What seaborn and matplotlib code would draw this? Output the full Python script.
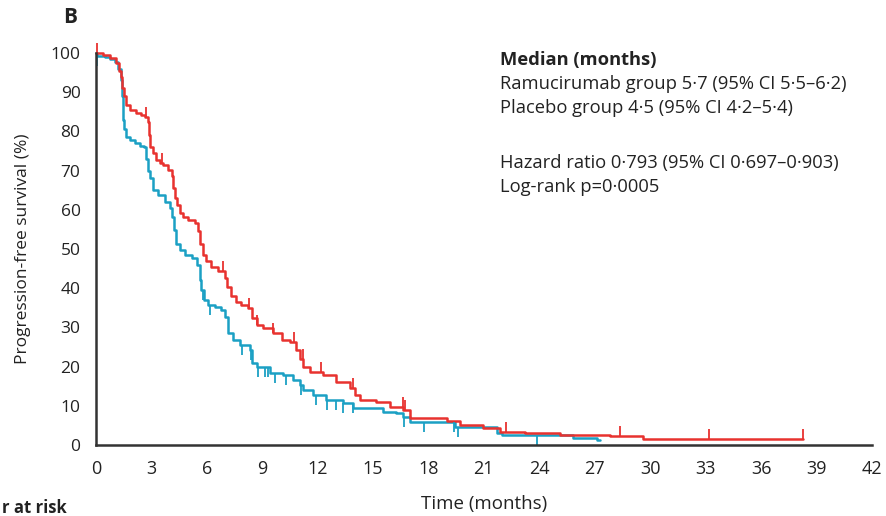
import numpy as np
import pandas as pd
import matplotlib
matplotlib.use("Agg")
import matplotlib.pyplot as plt
import seaborn as sns

# Kaplan-Meier step knots (months, % progression-free)
ram_time = [0, 0.38, 0.76, 1.12, 1.24, 1.35, 1.42, 1.52, 1.66, 1.84, 2.20, 2.47, 2.65,
            2.81, 2.87, 2.92, 3.10, 3.28, 3.46, 3.64, 3.91, 4.10, 4.18, 4.27, 4.37,
            4.55, 4.72, 4.99, 5.36, 5.54, 5.63, 5.81, 5.99, 6.26, 6.62, 6.98, 7.09,
            7.34, 7.61, 7.85, 8.24, 8.43, 8.70, 9.05, 9.59, 10.05, 10.50, 10.86, 11.04,
            11.22, 11.58, 12.30, 13.02, 13.74, 14.02, 14.29, 15.19, 15.91, 16.63, 16.99,
            18.98, 19.70, 20.94, 21.90, 23.20, 25.10, 27.80, 29.60, 38.27]
ram_surv = [100, 99.5, 98.8, 97.5, 95.5, 94, 91, 89, 86.7, 85.5, 84.8, 84.2, 83.6,
            82.5, 79, 76.1, 74.4, 72.7, 71.9, 71.4, 70.2, 68.5, 65.5, 63, 61.2,
            59.1, 58.2, 57.4, 56.6, 54.5, 51.4, 48.5, 47, 45.5, 44.4, 42.5, 40.4,
            38, 36.6, 35.6, 34.9, 32.3, 30.6, 29.8, 28.5, 26.8, 26.4, 24.2, 22,
            20, 18.7, 17.9, 16.1, 14.5, 12.8, 11.5, 11, 9.8, 8.9, 6.9,
            6.0, 5.1, 4.3, 3.4, 3.0, 2.6, 2.3, 1.6, 1.6]

pla_time = [0, 0.05, 0.49, 0.76, 1.03, 1.21, 1.35, 1.43, 1.48, 1.52, 1.66, 1.84, 2.11,
            2.38, 2.61, 2.71, 2.81, 2.92, 3.10, 3.37, 3.73, 4.00, 4.15, 4.22, 4.33,
            4.55, 4.82, 5.18, 5.45, 5.63, 5.72, 5.84, 6.08, 6.44, 6.80, 6.98, 7.16,
            7.43, 7.79, 8.33, 8.43, 8.70, 9.42, 10.14, 10.68, 11.04, 11.22, 11.76,
            12.48, 13.38, 13.92, 15.55, 16.27, 16.63, 16.99, 19.45, 21.70, 22.00,
            25.80, 27.10, 27.27]
pla_surv = [100, 99.3, 99, 98.5, 97.8, 96, 93, 89, 83, 80.5, 78.6, 77.8, 77,
            76.3, 75.9, 73, 70, 68, 65, 63.8, 62, 60.4, 58.2, 54.8, 51.4,
            49.7, 48.5, 47.6, 45.9, 42.1, 39.5, 37, 35.7, 35.3, 34.4, 32.7, 28.5,
            26.8, 25.5, 24.2, 20.8, 20, 18.3, 17.9, 16.6, 15.3, 14, 12.8,
            11.5, 10.6, 9.4, 8.5, 8.1, 7.2, 5.8, 4.5, 3.0, 2.6,
            1.7, 1.2, 1.2]

# censoring marks (months)
ram_cens = [0.05, 2.7, 3.6, 6.86, 8.3, 8.7, 9.6, 10.7, 11.2, 12.2, 13.9, 16.6, 16.75,
            22.2, 28.36, 33.19, 38.27]
pla_cens = [0.05, 5.8, 6.2, 7.9, 8.4, 8.8, 9.15, 9.3, 9.7, 10.3, 11.1, 11.9, 12.5,
            13.0, 13.4, 13.9, 16.7, 17.75, 19.4, 19.6, 23.9]

red = "#e8322f"
blue = "#1ba0c4"

df = pd.concat([
    pd.DataFrame({"time": ram_time, "surv": ram_surv, "group": "Ramucirumab"}),
    pd.DataFrame({"time": pla_time, "surv": pla_surv, "group": "Placebo"}),
])

sns.set_style("white")
plt.rcParams["font.family"] = ["Open Sans", "DejaVu Sans"]

fig = plt.figure(figsize=(8.87, 5.16), dpi=100)
ax = fig.add_axes([0.108, 0.1376, 0.875, 0.7597])

sns.lineplot(data=df, x="time", y="surv", hue="group",
             palette={"Ramucirumab": red, "Placebo": blue},
             hue_order=["Placebo", "Ramucirumab"],
             estimator=None, sort=False, drawstyle="steps-post",
             linewidth=1.8, legend=False, ax=ax, clip_on=False)


def step_at(times, survs, t):
    idx = np.searchsorted(times, t, side="right") - 1
    return np.asarray(survs)[idx]


ax.plot(pla_cens, step_at(pla_time, pla_surv, pla_cens), linestyle="none",
        marker=3, ms=7, mew=1.3, color=blue, clip_on=False)
ax.plot(ram_cens, step_at(ram_time, ram_surv, ram_cens), linestyle="none",
        marker=2, ms=7, mew=1.3, color=red, clip_on=False)

ax.set_xlim(0, 42)
ax.set_ylim(0, 100)
ax.set_xticks(range(0, 43, 3))
ax.set_yticks(range(0, 101, 10))
for s in ["top", "right"]:
    ax.spines[s].set_visible(False)
for s in ["left", "bottom"]:
    ax.spines[s].set_color("#333333")
    ax.spines[s].set_linewidth(1.8)
ax.tick_params(axis="both", direction="out", length=8, width=1.6, color="#333333",
               labelsize=12.5, labelcolor="#222222", pad=3)
for lab in ax.get_xticklabels():
    lab.set_fontsize(13)

ax.set_xlabel("Time (months)", fontsize=13.5, color="#222222", labelpad=12)
ax.set_ylabel("Progression-free survival (%)", fontsize=12.5, color="#222222",
              labelpad=14)

fig.text(0.071, 0.967, "B", fontsize=15, fontweight="bold", color="#222222",
         ha="left", va="center")

lines = [("Median (months)", "bold"),
         ("Ramucirumab group 5\u00b77 (95% CI 5\u00b75\u20136\u00b72)", "normal"),
         ("Placebo group 4\u00b75 (95% CI 4\u00b72\u20135\u00b74)", "normal"),
         ("Hazard ratio 0\u00b7793 (95% CI 0\u00b7697\u20130\u00b7903)", "normal"),
         ("Log-rank p=0\u00b70005", "normal")]
ys = [60, 84, 108, 163, 187]
for (txt, w), y in zip(lines, ys):
    fig.text(500 / 887, 1 - y / 516, txt, fontsize=13.2, fontweight=w,
             color="#222222", ha="left", va="center")

fig.text(67 / 887, 1 - 508 / 516, "r at risk", fontsize=12, fontweight="bold",
         color="#222222", ha="right", va="center")

fig.savefig("out.png", dpi=100)
